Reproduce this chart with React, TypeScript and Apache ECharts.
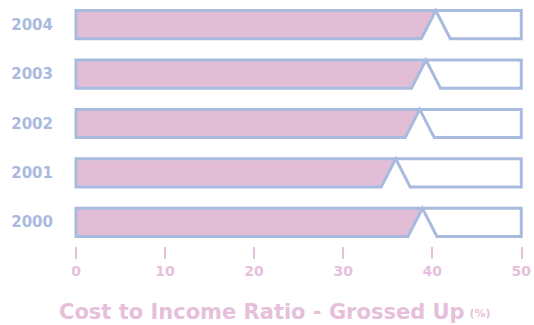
import React, { useEffect, useRef } from "react";
import * as echarts from "echarts";

const years = ["2000", "2001", "2002", "2003", "2004"];
const costIncome = [38.9, 35.9, 38.6, 39.3, 40.4];
const xTicks = [0, 10, 20, 30, 40, 50];
const xMax = 50;

const BLUE = "#a9badf";
const PINK = "#e2bed6";
const PINK_TEXT = "#e6c0db";
const FONT = "DejaVu Sans";
const WEIGHT = "bold";

export default function App() {
  const ref = useRef<HTMLDivElement>(null);
  useEffect(() => {
    if (!ref.current) return;
    const chart = echarts.init(ref.current, null, { renderer: "svg" });
    const notch = 14.5;
    chart.setOption({
      animation: false,
      grid: { left: 76, right: 12, top: -1, height: 248 },
      xAxis: {
        type: "value",
        min: xTicks[0],
        max: xTicks[xTicks.length - 1],
        interval: 10,
        axisLine: { show: false },
        splitLine: { show: false },
        axisTick: { show: true, length: 12, lineStyle: { color: PINK_TEXT, width: 2 } },
        axisLabel: {
          margin: 17,
          color: PINK_TEXT,
          fontFamily: FONT,
          fontWeight: WEIGHT,
          fontSize: 14,
        },
      },
      yAxis: {
        type: "category",
        data: years,
        axisLine: { show: false },
        axisTick: { show: false },
        axisLabel: {
          margin: 23,
          color: BLUE,
          fontFamily: FONT,
          fontWeight: WEIGHT,
          fontSize: 15,
        },
      },
      title: {
        text: "{a|Cost to Income Ratio - Grossed Up} {b|(%)}",
        left: 54,
        top: 296,
        textStyle: {
          rich: {
            a: { fontFamily: FONT, fontWeight: WEIGHT, fontSize: 21, color: PINK_TEXT },
            b: { fontFamily: FONT, fontWeight: WEIGHT, fontSize: 11, color: PINK_TEXT, padding: [4, 0, 0, 0] },
          },
        },
      },
      series: [
        {
          type: "custom",
          data: costIncome.map((v, i) => [v, i]),
          encode: { x: 0, y: 1 },
          renderItem: (params: any, api: any) => {
            const v = api.value(0);
            const c = api.value(1);
            const p0 = api.coord([0, c]);
            const pe = api.coord([xMax, c]);
            const pv = api.coord([v, c]);
            const h = api.size([0, 1])[1] * 0.57;
            const top = p0[1] - h / 2;
            const bot = p0[1] + h / 2;
            const x0 = p0[0];
            const xe = pe[0];
            const xv = pv[0];
            return {
              type: "group",
              children: [
                {
                  type: "polygon",
                  shape: { points: [[x0, top], [xv, top], [xv - notch, bot], [x0, bot]] },
                  style: { fill: PINK, stroke: null },
                },
                {
                  type: "polygon",
                  shape: { points: [[xv, top], [xe, top], [xe, bot], [xv + notch, bot]] },
                  style: { fill: "#ffffff", stroke: null },
                },
                {
                  type: "polygon",
                  shape: {
                    points: [
                      [x0, top], [xe, top], [xe, bot], [xv + notch, bot],
                      [xv, top], [xv - notch, bot], [x0, bot],
                    ],
                  },
                  style: { fill: "none", stroke: BLUE, lineWidth: 3, lineJoin: "miter" },
                },
              ],
            };
          },
        },
      ],
    });
    return () => chart.dispose();
  }, []);
  return <div ref={ref} style={{ width: 534, height: 325, position: "absolute", left: 0, top: 0 }} />;
}
